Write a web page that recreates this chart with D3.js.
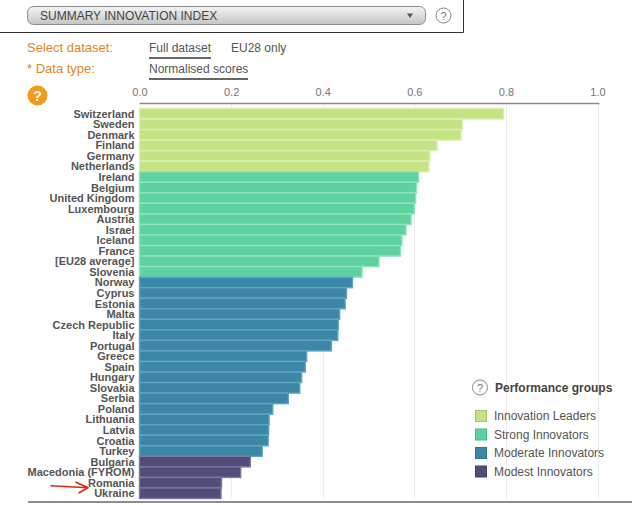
<!DOCTYPE html>
<html>
<head>
<meta charset="utf-8">
<script src="https://cdn.jsdelivr.net/npm/d3@7"></script>
<style>
  html, body { margin: 0; padding: 0; background: #fff; }
  svg { display: block; font-family: 'Liberation Sans', Arial, sans-serif; }
</style>
</head>
<body>
<div id="sii-chart"></div>
<script>
var countries = [
  'Switzerland', 'Sweden', 'Denmark', 'Finland', 'Germany', 'Netherlands',
  'Ireland', 'Belgium', 'United Kingdom', 'Luxembourg', 'Austria', 'Israel',
  'Iceland', 'France', '[EU28 average]', 'Slovenia',
  'Norway', 'Cyprus', 'Estonia', 'Malta', 'Czech Republic', 'Italy',
  'Portugal', 'Greece', 'Spain', 'Hungary', 'Slovakia', 'Serbia', 'Poland',
  'Lithuania', 'Latvia', 'Croatia', 'Turkey',
  'Bulgaria', 'Macedonia (FYROM)', 'Romania', 'Ukraine'
];
var scores = [
  0.795, 0.705, 0.702, 0.650, 0.634, 0.632,
  0.609, 0.605, 0.603, 0.600, 0.593, 0.582,
  0.573, 0.570, 0.523, 0.486,
  0.465, 0.452, 0.449, 0.437, 0.434, 0.433,
  0.419, 0.365, 0.362, 0.354, 0.350, 0.325, 0.291,
  0.283, 0.282, 0.281, 0.268,
  0.242, 0.221, 0.179, 0.178
];
// performance group index for each country
var groupIndex = [
  0, 0, 0, 0, 0, 0,
  1, 1, 1, 1, 1, 1, 1, 1, 1, 1,
  2, 2, 2, 2, 2, 2, 2, 2, 2, 2, 2, 2, 2, 2, 2, 2, 2,
  3, 3, 3, 3
];
var groupNames = ['Innovation Leaders', 'Strong Innovators', 'Moderate Innovators', 'Modest Innovators'];
var groupFill = ['#c4e383', '#5dd29f', '#3a87a7', '#504e78'];
var groupEdge = ['#dcefb3', '#8fe3bf', '#63a4bf', '#7b799c'];
var tickValues = [0, 0.2, 0.4, 0.6, 0.8, 1.0];

(function () {
  var width = 632;
  var height = 505;
  var plot = { left: 139.5, right: 597.5, top: 108.5, bottom: 498.5 };
  var grey = '#555';
  var orange = '#e0862a';

  var svg = d3.select('#sii-chart').append('svg')
    .attr('width', width)
    .attr('height', height);

  var defs = svg.append('defs');
  var grad = defs.append('linearGradient')
    .attr('id', 'dd-grad').attr('x1', 0).attr('x2', 0).attr('y1', 0).attr('y2', 1);
  grad.append('stop').attr('offset', '0%').attr('stop-color', '#f4f4f4');
  grad.append('stop').attr('offset', '100%').attr('stop-color', '#c4c4c4');

  // header box + dropdown
  svg.append('path')
    .attr('d', 'M0,32.5H463.5V0')
    .attr('fill', 'none')
    .attr('stroke', '#333')
    .attr('stroke-width', 1);

  svg.append('rect')
    .attr('x', 27.5).attr('y', 6.5)
    .attr('width', 398).attr('height', 18)
    .attr('rx', 6)
    .attr('fill', 'url(#dd-grad)')
    .attr('stroke', '#8a8a8a');

  svg.append('text')
    .attr('x', 40).attr('y', 20)
    .attr('font-size', 12)
    .attr('fill', '#444')
    .text('SUMMARY INNOVATION INDEX');

  svg.append('path')
    .attr('d', 'M407,13.5L413,13.5L410,18Z')
    .attr('fill', '#555');

  function helpCircle(cx, cy, r) {
    svg.append('circle')
      .attr('cx', cx).attr('cy', cy).attr('r', r)
      .attr('fill', '#fff')
      .attr('stroke', '#888')
      .attr('stroke-width', 1);
    svg.append('text')
      .attr('x', cx).attr('y', cy + 4)
      .attr('text-anchor', 'middle')
      .attr('font-size', 11)
      .attr('fill', '#777')
      .text('?');
  }
  helpCircle(443.5, 15.5, 7.5);

  // dataset selectors
  svg.append('text').attr('x', 27).attr('y', 52)
    .attr('font-size', 13).attr('fill', orange).text('Select dataset:');
  svg.append('text').attr('x', 27).attr('y', 73)
    .attr('font-size', 13).attr('fill', orange).text('* Data type:');

  svg.append('text').attr('x', 149).attr('y', 52)
    .attr('font-size', 12).attr('fill', grey).text('Full dataset');
  svg.append('text').attr('x', 231).attr('y', 52)
    .attr('font-size', 12).attr('fill', grey).text('EU28 only');
  svg.append('text').attr('x', 149).attr('y', 73)
    .attr('font-size', 12).attr('fill', grey).text('Normalised scores');

  svg.append('line').attr('x1', 149).attr('x2', 211).attr('y1', 58).attr('y2', 58)
    .attr('stroke', '#666').attr('stroke-width', 2);
  svg.append('line').attr('x1', 149).attr('x2', 248).attr('y1', 79).attr('y2', 79)
    .attr('stroke', '#666').attr('stroke-width', 2);

  // orange help badge
  svg.append('circle')
    .attr('cx', 37.5).attr('cy', 95.5).attr('r', 10)
    .attr('fill', '#f39a1c');
  svg.append('text')
    .attr('x', 37.5).attr('y', 100.5)
    .attr('text-anchor', 'middle')
    .attr('font-size', 14)
    .attr('font-weight', 'bold')
    .attr('fill', '#fff')
    .text('?');

  // scales
  var x = d3.scaleLinear().domain([0, 1]).range([plot.left, plot.right]);
  var y = d3.scaleBand().domain(countries).range([plot.top, plot.bottom]).padding(0);

  // grid lines
  svg.append('g')
    .selectAll('line')
    .data(tickValues.slice(1))
    .enter().append('line')
    .attr('x1', function (d) { return Math.round(x(d)) + 0.5; })
    .attr('x2', function (d) { return Math.round(x(d)) + 0.5; })
    .attr('y1', plot.top - 5)
    .attr('y2', plot.bottom)
    .attr('stroke', '#ececec')
    .attr('stroke-width', 1);

  // top axis
  var axis = svg.append('g')
    .attr('transform', 'translate(0,' + (plot.top - 5) + ')')
    .call(d3.axisTop(x).tickValues(tickValues).tickFormat(d3.format('.1f')).tickSize(0).tickPadding(8));
  axis.select('.domain')
    .attr('stroke', '#888')
    .attr('stroke-width', 1.5)
    .attr('d', 'M' + plot.left + ',0H' + (plot.right + 2));
  axis.selectAll('text')
    .attr('font-family', "'Liberation Sans', Arial, sans-serif")
    .attr('font-size', 11)
    .attr('fill', '#777');

  // bars
  var rows = countries.map(function (c, i) {
    return { name: c, value: scores[i], group: groupIndex[i] };
  });

  svg.append('g')
    .selectAll('rect')
    .data(rows)
    .enter().append('rect')
    .attr('x', x(0))
    .attr('y', function (d) { return y(d.name); })
    .attr('width', function (d) { return x(d.value) - x(0); })
    .attr('height', y.bandwidth())
    .attr('fill', function (d) { return groupFill[d.group]; })
    .attr('stroke', function (d) { return groupEdge[d.group]; })
    .attr('stroke-width', 1.4);

  // country labels
  svg.append('g')
    .selectAll('text')
    .data(rows)
    .enter().append('text')
    .attr('x', plot.left - 5)
    .attr('y', function (d) { return y(d.name) + y.bandwidth() / 2 + 4; })
    .attr('text-anchor', 'end')
    .attr('font-size', 11)
    .attr('font-weight', 'bold')
    .attr('fill', grey)
    .text(function (d) { return d.name; });

  // bottom rule
  svg.append('line')
    .attr('x1', 28).attr('x2', width)
    .attr('y1', plot.bottom + 3.5).attr('y2', plot.bottom + 3.5)
    .attr('stroke', '#666')
    .attr('stroke-width', 1.5);

  // red hand-drawn arrow pointing at Romania
  var ry = y('Romania') + y.bandwidth() / 2;
  var tipX = 88;
  var tipY = ry + 5;
  svg.append('path')
    .attr('d', 'M51,' + (tipY - 2) + 'Q70,' + (tipY - 1) + ' ' + tipX + ',' + tipY +
      'M76,' + (tipY - 5.5) + 'L' + tipX + ',' + tipY + 'L79,' + (tipY + 5))
    .attr('fill', 'none')
    .attr('stroke', '#e3241b')
    .attr('stroke-width', 1.6)
    .attr('stroke-linecap', 'round')
    .attr('stroke-linejoin', 'round');

  // legend
  var legend = svg.append('g');
  helpCircle(480, 387.5, 7.5);
  legend.append('text')
    .attr('x', 495).attr('y', 391.5)
    .attr('font-size', 12)
    .attr('font-weight', 'bold')
    .attr('fill', '#444')
    .text('Performance groups');

  var item = legend.selectAll('g.item')
    .data(groupNames)
    .enter().append('g')
    .attr('class', 'item')
    .attr('transform', function (d, i) { return 'translate(475,' + (410 + i * 18.5) + ')'; });
  item.append('rect')
    .attr('x', 0.5).attr('y', 0.5)
    .attr('width', 11).attr('height', 11)
    .attr('fill', function (d, i) { return groupFill[i]; })
    .attr('stroke', function (d, i) { return d3.color(groupFill[i]).darker(0.4); })
    .attr('stroke-width', 1);
  item.append('text')
    .attr('x', 19).attr('y', 10)
    .attr('font-size', 12)
    .attr('fill', grey)
    .text(function (d) { return d; });
})();
</script>
</body>
</html>
